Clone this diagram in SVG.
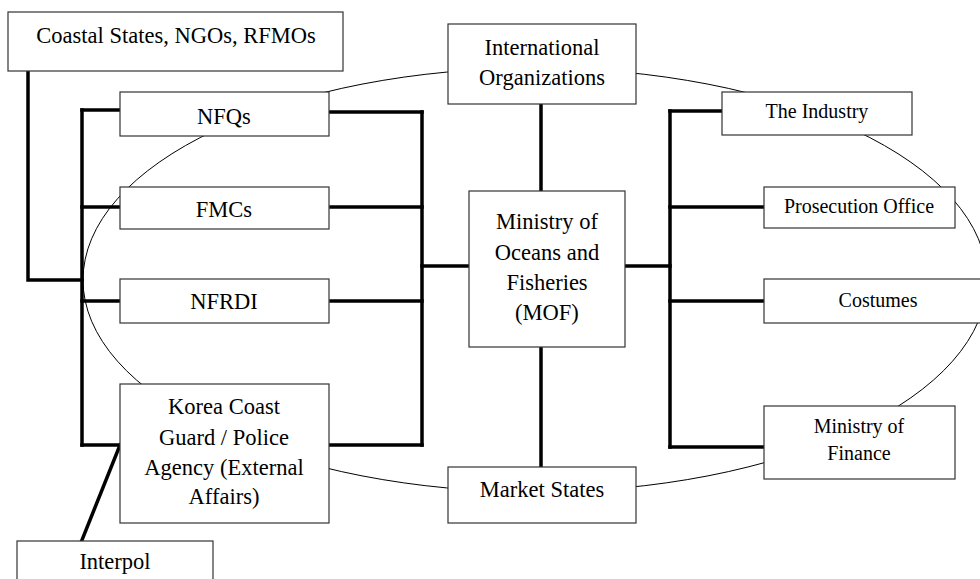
<svg xmlns="http://www.w3.org/2000/svg" width="980" height="579" viewBox="0 0 980 579">
<style>
.bx{fill:#fff;stroke:#333;stroke-width:1.2}
text{font-family:'Liberation Serif','Times New Roman','DejaVu Serif',serif;font-size:22.5px;fill:#000;text-anchor:middle}
.s{font-size:20px}
.c{fill:none;stroke:#000;stroke-width:3.5;stroke-linecap:square;stroke-linejoin:miter}
.e{fill:none;stroke:#000;stroke-width:1}
</style>
<rect width="980" height="579" fill="#fff"/>
<ellipse class="e" cx="535" cy="280" rx="452" ry="212"/>
<g id="connectors">
<polyline class="c" points="28,71 28,280 82,280"/>
<line class="c" x1="82" y1="110" x2="82" y2="445"/>
<line class="c" x1="82" y1="110" x2="120" y2="110"/>
<line class="c" x1="82" y1="207" x2="120" y2="207"/>
<line class="c" x1="82" y1="301" x2="120" y2="301"/>
<line class="c" x1="82" y1="445" x2="120" y2="445"/>
<line class="c" x1="422" y1="112" x2="422" y2="445"/>
<line class="c" x1="329" y1="112" x2="422" y2="112"/>
<line class="c" x1="331" y1="207" x2="422" y2="207"/>
<line class="c" x1="331" y1="301" x2="422" y2="301"/>
<line class="c" x1="329" y1="445" x2="422" y2="445"/>
<line class="c" x1="422" y1="266" x2="469" y2="266"/>
<line class="c" x1="625" y1="266" x2="670" y2="266"/>
<line class="c" x1="670" y1="111" x2="670" y2="447"/>
<line class="c" x1="670" y1="111" x2="722" y2="111"/>
<line class="c" x1="670" y1="207" x2="764" y2="207"/>
<line class="c" x1="670" y1="301" x2="764" y2="301"/>
<line class="c" x1="670" y1="447" x2="764" y2="447"/>
<line class="c" x1="541" y1="104" x2="541" y2="191"/>
<line class="c" x1="541" y1="347" x2="541" y2="467"/>
<line class="c" x1="120" y1="445" x2="82" y2="540" stroke-linecap="butt"/>
</g>
<g id="coastal"><rect class="bx" x="8" y="12" width="335" height="59"/><text x="176" y="43">Coastal States, NGOs, RFMOs</text></g>
<g id="nfqs"><rect class="bx" x="120" y="92" width="209" height="44"/><text x="224" y="124">NFQs</text></g>
<g id="fmcs"><rect class="bx" x="120" y="187" width="209" height="42"/><text x="224" y="217">FMCs</text></g>
<g id="nfrdi"><rect class="bx" x="120" y="279" width="209" height="44"/><text x="224" y="309">NFRDI</text></g>
<g id="kcg"><rect class="bx" x="120" y="384" width="209" height="139"/><text x="224" y="414">Korea Coast</text><text x="224" y="445">Guard / Police</text><text x="224" y="475">Agency (External</text><text x="224" y="504">Affairs)</text></g>
<g id="interpol"><rect class="bx" x="17" y="541" width="196" height="50"/><text x="115" y="569">Interpol</text></g>
<g id="intl"><rect class="bx" x="448" y="24" width="188" height="80"/><text x="542" y="55">International</text><text x="542" y="85">Organizations</text></g>
<g id="mof"><rect class="bx" x="469" y="191" width="156" height="156"/><text x="547" y="229">Ministry of</text><text x="547" y="260">Oceans and</text><text x="547" y="290">Fisheries</text><text x="547" y="320">(MOF)</text></g>
<g id="market"><rect class="bx" x="448" y="467" width="188" height="56"/><text x="542" y="497">Market States</text></g>
<g id="industry"><rect class="bx" x="722" y="92" width="190" height="43"/><text class="s" x="817" y="118">The Industry</text></g>
<g id="prosecution"><rect class="bx" x="764" y="187" width="191" height="41"/><text class="s" x="859" y="213">Prosecution Office</text></g>
<g id="costumes"><rect class="bx" x="764" y="279" width="229" height="44"/><text class="s" x="878" y="307">Costumes</text></g>
<g id="finance"><rect class="bx" x="764" y="406" width="191" height="73"/><text class="s" x="859" y="433">Ministry of</text><text class="s" x="859" y="460">Finance</text></g>
</svg>
